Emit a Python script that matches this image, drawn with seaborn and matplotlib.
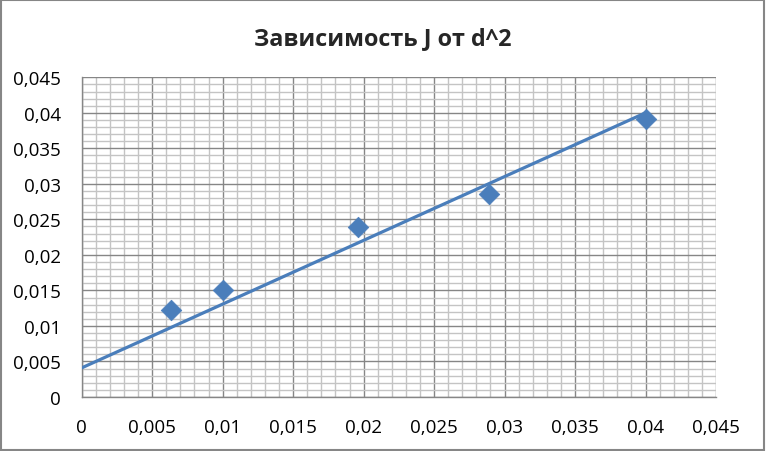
import matplotlib
matplotlib.use("Agg")
import matplotlib.pyplot as plt
import seaborn as sns
import pandas as pd
from matplotlib.ticker import MultipleLocator, FixedLocator, FixedFormatter
from matplotlib.patches import Rectangle

# Data
d2 = [0.0063, 0.0100, 0.0196, 0.0289, 0.0400]
J = [0.0123, 0.0150, 0.0239, 0.0286, 0.0392]
line_x = [0.0, 0.0400]
line_y = [0.0041, 0.0400]
ticks = [0, 0.005, 0.01, 0.015, 0.02, 0.025, 0.03, 0.035, 0.04, 0.045]
tick_labels = ["0", "0,005", "0,01", "0,015", "0,02", "0,025", "0,03", "0,035", "0,04", "0,045"]
title = "Зависимость J от d^2"

sns.set_style("white")
plt.rcParams['font.family'] = ['Open Sans', 'DejaVu Sans']

fig = plt.figure(figsize=(7.66, 4.52), dpi=100)
ax = fig.add_axes([81.7/766, 1-398/452, (716-81.7)/766, (398-78.3)/452])

blue = "#4a7ebb"
pts = pd.DataFrame({"x": d2, "y": J})
ln = pd.DataFrame({"x": line_x, "y": line_y})
sns.lineplot(data=ln, x="x", y="y", ax=ax, color=blue, linewidth=2.3, zorder=3)
sns.scatterplot(data=pts, x="x", y="y", ax=ax, marker="D", s=110, color=blue,
                edgecolor=blue, linewidth=0.5, zorder=4)

ax.set_xlim(0, 0.045)
ax.set_ylim(0, 0.045)
ax.xaxis.set_major_locator(FixedLocator(ticks))
ax.xaxis.set_major_formatter(FixedFormatter(tick_labels))
ax.yaxis.set_major_locator(FixedLocator(ticks))
ax.yaxis.set_major_formatter(FixedFormatter(tick_labels))
ax.xaxis.set_minor_locator(MultipleLocator(0.001))
ax.yaxis.set_minor_locator(MultipleLocator(0.001))
ax.grid(which="minor", color="#c4c4c4", linewidth=1.0, zorder=0)
ax.grid(which="major", color="#868686", linewidth=1.0, zorder=1)
ax.set_axisbelow(True)
ax.set_xlabel("")
ax.set_ylabel("")
for s in ["top", "right"]:
    ax.spines[s].set_visible(False)
for s in ["left", "bottom"]:
    ax.spines[s].set_color("#868686")
    ax.spines[s].set_linewidth(1.0)
ax.tick_params(which="major", direction="out", length=6, width=1, color="#868686",
               labelsize=13.5, labelcolor="black")
ax.tick_params(axis="y", which="major", pad=9)
ax.tick_params(axis="x", which="major", pad=9)
ax.tick_params(which="minor", length=0)

fig.text(0.5, 1-45/452, title, ha="center", va="baseline", fontsize=16.8, fontweight="bold")
fig.patches.append(Rectangle((0.001, 0.002), 0.997, 0.996, transform=fig.transFigure,
                             fill=False, edgecolor="#868686", linewidth=1.5))

fig.savefig("out.png", dpi=100)
